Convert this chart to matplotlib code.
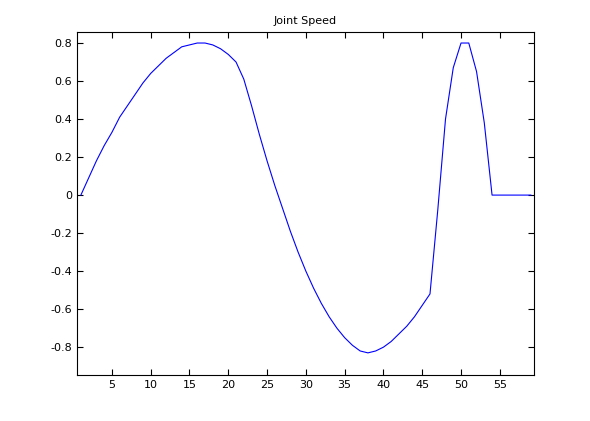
import matplotlib
matplotlib.use('Agg')
import matplotlib.pyplot as plt

# joint speed samples, one per step
steps = list(range(1, 60))
speed = [0.0, 0.09, 0.18, 0.26, 0.33, 0.41, 0.47, 0.53, 0.59, 0.64,
         0.68, 0.72, 0.75, 0.78, 0.79, 0.80, 0.80, 0.79, 0.77, 0.74,
         0.70, 0.61, 0.47, 0.32, 0.18, 0.05, -0.07, -0.19, -0.30, -0.40,
         -0.49, -0.57, -0.64, -0.70, -0.75, -0.79, -0.82, -0.83, -0.82, -0.80,
         -0.77, -0.73, -0.69, -0.64, -0.58, -0.52, -0.08, 0.40, 0.67, 0.80,
         0.80, 0.65, 0.38, 0.0, 0.0, 0.0, 0.0, 0.0, 0.0]
xticks = [5, 10, 15, 20, 25, 30, 35, 40, 45, 50, 55]
yticks = [-0.8, -0.6, -0.4, -0.2, 0, 0.2, 0.4, 0.6, 0.8]

fig = plt.figure(figsize=(5.9, 4.21), dpi=100)
ax = fig.add_axes([0.1305, 0.109, 0.7745, 0.815])
ax.plot(steps, speed, color='blue', linewidth=0.8)
ax.set_xlim(0.5, 59.4)
ax.set_ylim(-0.947, 0.858)
ax.set_xticks(xticks)
ax.set_yticks(yticks)
ax.set_yticklabels(['-0.8', '-0.6', '-0.4', '-0.2', '0', '0.2', '0.4', '0.6', '0.8'])
ax.tick_params(direction='in', labelsize=8, top=True, right=True, length=4)
ax.set_title('Joint Speed', fontsize=8)

fig.savefig('out.png')
